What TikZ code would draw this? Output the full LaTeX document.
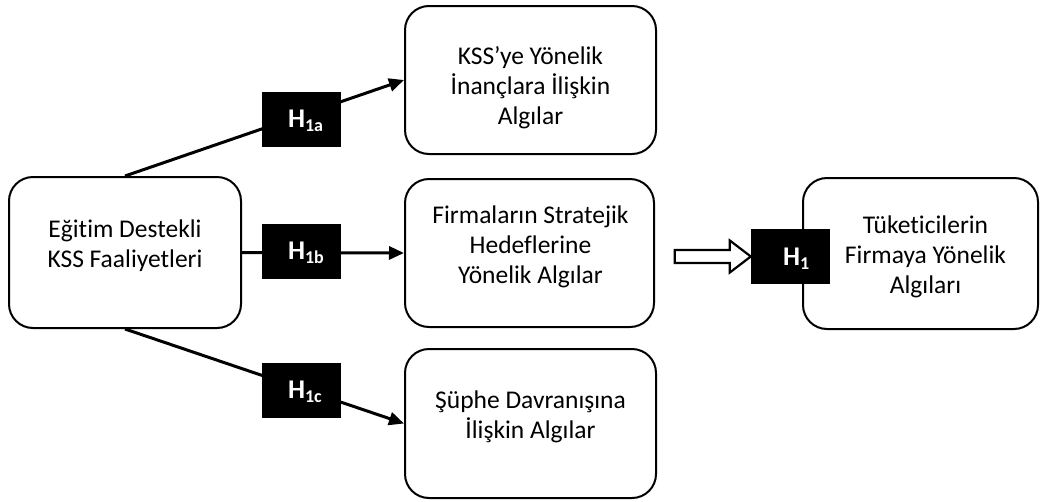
\documentclass[tikz,border=0pt]{standalone}
\usepackage{fontspec}
\setmainfont{Carlito}[Ligatures={NoCommon}]
\usetikzlibrary{arrows.meta,calc}
\tikzset{
  roundbox/.style={draw=black, line width=2pt, rounded corners=24pt, fill=white, inner sep=0pt},
  boxtext/.style={align=center, inner sep=0pt, font=\fontsize{25.5}{30}\selectfont},
  hlabel/.style={fill=black, draw=black, minimum width=78pt, minimum height=54pt, inner sep=0pt},
  htext/.style={text=white, inner sep=0pt, anchor=base west, font=\fontsize{27}{30}\selectfont\bfseries},
  link/.style={line width=3pt, -{Triangle[length=15pt,width=13pt]}},
  hollow/.style={draw=black, line width=2.2pt, fill=white, line join=miter}
}
\newcommand{\hsub}[1]{H\raisebox{-4pt}{\fontsize{18}{18}\selectfont #1}}
\begin{document}
\begin{tikzpicture}[x=1pt,y=-1pt]
\useasboundingbox (0,0) rectangle (1042,501);
% boxes
\node[roundbox, minimum width=232pt, minimum height=151pt] (src) at (125,252.5) {};
\node[roundbox, minimum width=251pt, minimum height=148pt] (top) at (530.5,80) {};
\node[roundbox, minimum width=249pt, minimum height=148pt] (mid) at (529.5,253) {};
\node[roundbox, minimum width=251pt, minimum height=149pt] (bot) at (530.5,423.5) {};
\node[roundbox, minimum width=235pt, minimum height=151pt] (res) at (920.5,253.5) {};
% texts
\node[boxtext] (srct) at ($(src.center)+(0,-6.5)$) {Eğitim Destekli\\KSS Faaliyetleri};
\node[boxtext] (topt) at ($(top.center)+(0,7.5)$) {KSS’ye Yönelik\\İnançlara İlişkin\\Algılar};
\node[boxtext] (midt) at ($(mid.center)+(1,-6)$) {Firmaların Stratejik\\Hedeflerine\\Yönelik Algılar};
\node[boxtext] (bott) at ($(bot.center)+(0,-7)$) {Şüphe Davranışına\\İlişkin Algılar};
\node[boxtext] (rest) at ($(res.center)+(5,3)$) {Tüketicilerin\\Firmaya Yönelik\\Algıları};
% connectors
\draw[link] (src.north) -- (top.west);
\draw[link] (src.east) -- (mid.west);
\draw[link] (src.south) -- (bot.west);
% labels
\node[hlabel] (h1a) at (301,119) {};
\node[hlabel] (h1b) at (301,251) {};
\node[hlabel] (h1c) at (301,390) {};
\node[hlabel] (h1) at (790,256.5) {};
\node[htext] at ($(h1a.west)+(26,8.5)$) {\hsub{1a}};
\node[htext] at ($(h1b.west)+(26,8.5)$) {\hsub{1b}};
\node[htext] at ($(h1c.west)+(26,8.5)$) {\hsub{1c}};
\node[htext] at ($(h1.west)+(32,8.5)$) {\hsub{1}};
% hollow block arrow
\draw[hollow] ($(h1.west)+(-76,-6.5)$) -- ($(h1.west)+(-21,-6.5)$) -- ($(h1.west)+(-21,-16)$)
  -- (h1.west) -- ($(h1.west)+(-21,16)$) -- ($(h1.west)+(-21,6.5)$) -- ($(h1.west)+(-76,6.5)$) -- cycle;
\end{tikzpicture}
\end{document}
